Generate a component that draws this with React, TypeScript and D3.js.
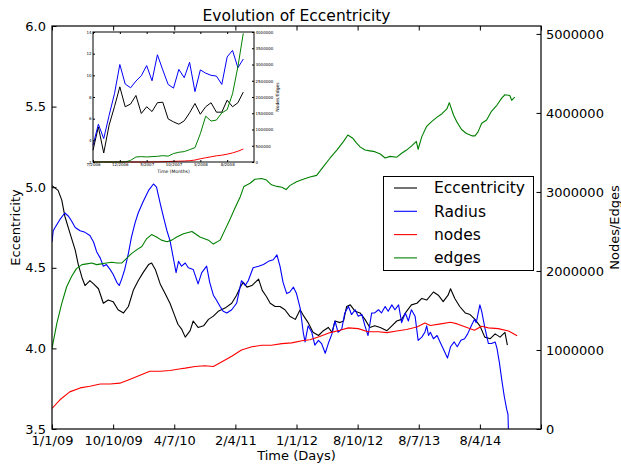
import React from 'react';
import * as d3 from 'd3';

const W = 621;
const H = 464;

// x positions are in tick units (0 = 1/1/09, 1 = 10/10/09, ...)
const dateLabels = ['1/1/09', '10/10/09', '4/7/10', '2/4/11', '1/1/12', '8/10/12', '8/7/13', '8/4/14'];

const eccentricity: [number, number][] = [
  [0, 5.01], [0.1, 4.98], [0.16, 4.92], [0.21, 4.82], [0.29, 4.72], [0.38, 4.61], [0.43, 4.52],
  [0.49, 4.44], [0.54, 4.39], [0.62, 4.42], [0.68, 4.4], [0.76, 4.37], [0.84, 4.28], [0.92, 4.3],
  [1.0, 4.29], [1.08, 4.24], [1.17, 4.22], [1.25, 4.26], [1.33, 4.36], [1.41, 4.42], [1.49, 4.47],
  [1.58, 4.52], [1.63, 4.53], [1.69, 4.49], [1.77, 4.4], [1.85, 4.34], [1.93, 4.28], [2.01, 4.2],
  [2.06, 4.15], [2.12, 4.12], [2.18, 4.07], [2.26, 4.11], [2.31, 4.17], [2.39, 4.13], [2.48, 4.14],
  [2.56, 4.18], [2.64, 4.2], [2.72, 4.23], [2.83, 4.25], [2.94, 4.28], [3.02, 4.33], [3.08, 4.38],
  [3.13, 4.41], [3.19, 4.38], [3.27, 4.39], [3.38, 4.43], [3.44, 4.36], [3.51, 4.32], [3.57, 4.28],
  [3.65, 4.26], [3.73, 4.26], [3.81, 4.24], [3.89, 4.2], [3.98, 4.18], [4.06, 4.24], [4.12, 4.2],
  [4.19, 4.16], [4.27, 4.1], [4.36, 4.08], [4.44, 4.11], [4.52, 4.13], [4.58, 4.1], [4.63, 4.17],
  [4.71, 4.16], [4.77, 4.17], [4.82, 4.26], [4.88, 4.27], [4.96, 4.23], [5.04, 4.22], [5.12, 4.18],
  [5.2, 4.13], [5.28, 4.14], [5.37, 4.13], [5.48, 4.11], [5.56, 4.14], [5.64, 4.17], [5.72, 4.18],
  [5.8, 4.23], [5.88, 4.27], [5.97, 4.28], [6.05, 4.31], [6.13, 4.3], [6.24, 4.35], [6.32, 4.33],
  [6.4, 4.29], [6.48, 4.33], [6.52, 4.37], [6.59, 4.31], [6.67, 4.26], [6.76, 4.22], [6.84, 4.21],
  [6.92, 4.18], [7.0, 4.14], [7.08, 4.07], [7.17, 4.06], [7.25, 4.09], [7.33, 4.07], [7.41, 4.1],
  [7.45, 4.02],
];

const radius: [number, number][] = [
  [0, 4.66], [0.02, 4.73], [0.05, 4.75], [0.13, 4.8], [0.21, 4.84], [0.27, 4.82], [0.32, 4.79],
  [0.38, 4.75], [0.46, 4.73], [0.54, 4.72], [0.62, 4.7], [0.68, 4.66], [0.73, 4.6], [0.79, 4.56],
  [0.84, 4.51], [0.89, 4.52], [0.95, 4.49], [1.0, 4.46], [1.06, 4.41], [1.1, 4.39], [1.14, 4.43],
  [1.19, 4.49], [1.25, 4.59], [1.3, 4.69], [1.36, 4.78], [1.41, 4.84], [1.49, 4.91], [1.58, 4.98],
  [1.66, 5.02], [1.71, 5.0], [1.77, 4.9], [1.82, 4.82], [1.88, 4.73], [1.93, 4.67], [1.98, 4.57],
  [2.03, 4.47], [2.07, 4.54], [2.12, 4.51], [2.18, 4.53], [2.23, 4.5], [2.31, 4.49], [2.39, 4.4],
  [2.45, 4.47], [2.53, 4.51], [2.58, 4.41], [2.64, 4.33], [2.69, 4.3], [2.75, 4.26], [2.8, 4.23],
  [2.86, 4.22], [2.94, 4.24], [3.02, 4.28], [3.1, 4.42], [3.16, 4.39], [3.21, 4.42], [3.29, 4.5],
  [3.38, 4.51], [3.46, 4.52], [3.54, 4.54], [3.62, 4.55], [3.68, 4.58], [3.73, 4.51], [3.78, 4.41],
  [3.84, 4.34], [3.89, 4.35], [3.95, 4.38], [4.0, 4.34], [4.06, 4.25], [4.11, 4.1], [4.14, 4.04],
  [4.19, 4.14], [4.25, 4.1], [4.3, 4.02], [4.36, 4.05], [4.41, 4.03], [4.47, 3.97], [4.52, 4.03],
  [4.58, 4.09], [4.63, 4.17], [4.68, 4.1], [4.74, 4.12], [4.79, 4.22], [4.85, 4.26], [4.9, 4.21],
  [4.96, 4.24], [5.01, 4.2], [5.07, 4.21], [5.12, 4.14], [5.17, 4.08], [5.23, 4.22], [5.28, 4.22],
  [5.34, 4.24], [5.39, 4.22], [5.45, 4.26], [5.5, 4.23], [5.56, 4.27], [5.61, 4.24], [5.67, 4.27],
  [5.72, 4.16], [5.78, 4.22], [5.83, 4.17], [5.88, 4.24], [5.94, 4.2], [5.99, 4.05], [6.05, 4.07],
  [6.1, 4.1], [6.13, 4.14], [6.16, 4.08], [6.19, 4.1], [6.24, 4.06], [6.3, 4.08], [6.36, 4.03],
  [6.41, 3.99], [6.47, 3.94], [6.52, 4.01], [6.58, 4.04], [6.63, 4.01], [6.69, 4.05], [6.75, 4.06],
  [6.8, 4.09], [6.86, 4.14], [6.91, 4.18], [6.94, 4.16], [7.0, 4.27], [7.03, 4.23], [7.08, 4.13],
  [7.14, 4.03], [7.19, 4.03], [7.25, 4.04], [7.28, 4.0], [7.32, 3.91], [7.36, 3.8], [7.4, 3.7],
  [7.44, 3.62], [7.46, 3.59], [7.47, 3.45],
];

// millions
const nodes: [number, number][] = [
  [0, 0.26], [0.13, 0.37], [0.29, 0.47], [0.46, 0.52], [0.62, 0.54], [0.79, 0.57], [0.95, 0.57],
  [1.11, 0.58], [1.28, 0.63], [1.44, 0.68], [1.6, 0.73], [1.77, 0.73], [1.93, 0.74], [2.08, 0.76],
  [2.18, 0.77], [2.34, 0.79], [2.5, 0.8], [2.64, 0.79], [2.78, 0.85], [2.94, 0.92], [3.1, 1.0],
  [3.27, 1.04], [3.43, 1.06], [3.59, 1.06], [3.76, 1.08], [3.92, 1.09], [4.11, 1.12], [4.22, 1.13],
  [4.38, 1.17], [4.55, 1.22], [4.71, 1.25], [4.85, 1.28], [5.01, 1.27], [5.17, 1.23], [5.34, 1.23],
  [5.48, 1.22], [5.64, 1.24], [5.8, 1.26], [5.97, 1.29], [6.1, 1.34], [6.19, 1.31], [6.36, 1.33],
  [6.52, 1.35], [6.63, 1.33], [6.8, 1.28], [6.91, 1.25], [7.03, 1.3], [7.14, 1.28], [7.3, 1.27],
  [7.47, 1.24], [7.61, 1.18],
];

// millions
const edges: [number, number][] = [
  [0, 1.02], [0.08, 1.34], [0.16, 1.59], [0.24, 1.8], [0.32, 1.93], [0.4, 2.03], [0.49, 2.08],
  [0.57, 2.09], [0.65, 2.1], [0.73, 2.08], [0.81, 2.09], [0.89, 2.1], [0.98, 2.11], [1.06, 2.1],
  [1.14, 2.1], [1.22, 2.16], [1.3, 2.22], [1.39, 2.27], [1.47, 2.31], [1.55, 2.41], [1.63, 2.46],
  [1.71, 2.43], [1.79, 2.39], [1.88, 2.37], [1.96, 2.39], [2.04, 2.43], [2.15, 2.47], [2.29, 2.5],
  [2.42, 2.43], [2.56, 2.39], [2.64, 2.34], [2.75, 2.39], [2.83, 2.52], [2.91, 2.65], [2.99, 2.79],
  [3.08, 2.94], [3.14, 3.07], [3.24, 3.11], [3.32, 3.16], [3.43, 3.17], [3.51, 3.15], [3.59, 3.09],
  [3.68, 3.07], [3.76, 3.06], [3.83, 3.03], [3.89, 3.08], [4.0, 3.13], [4.11, 3.16], [4.22, 3.19],
  [4.33, 3.21], [4.44, 3.32], [4.55, 3.43], [4.66, 3.53], [4.77, 3.64], [4.84, 3.72], [4.92, 3.68],
  [4.98, 3.62], [5.04, 3.57], [5.12, 3.53], [5.2, 3.52], [5.28, 3.51], [5.37, 3.48], [5.45, 3.43],
  [5.53, 3.45], [5.64, 3.44], [5.72, 3.49], [5.8, 3.53], [5.88, 3.58], [5.96, 3.64], [5.99, 3.54],
  [6.05, 3.7], [6.13, 3.83], [6.21, 3.89], [6.29, 3.94], [6.38, 3.99], [6.46, 4.05], [6.5, 4.13],
  [6.57, 3.97], [6.62, 3.89], [6.7, 3.79], [6.78, 3.74], [6.87, 3.71], [6.92, 3.71], [6.97, 3.76],
  [7.03, 3.87], [7.11, 3.91], [7.19, 4.02], [7.28, 4.1], [7.36, 4.19], [7.41, 4.23], [7.49, 4.22],
  [7.52, 4.16], [7.57, 4.2],
];

// inset: monthly values from 7/2006
const monthLabels = ['7/2006', '12/2006', '5/2007', '10/2007', '3/2008', '8/2008'];
const insetRadius = [3.54, 5.49, 4.16, 6.3, 8.3, 11.0, 9.2, 8.85, 9.47, 9.96, 10.9, 9.5, 11.9, 10.5,
  9.16, 8.82, 10.55, 9.78, 11.2, 8.5, 10.5, 10.2, 10.0, 9.93, 9.16, 11.7, 12.3, 10.7, 11.5];
const insetEcc = [3.08, 5.24, 2.83, 5.4, 7.1, 8.94, 7.1, 7.35, 8.14, 6.48, 7.1, 6.66, 7.47, 7.52,
  5.98, 5.7, 5.49, 5.8, 6.54, 7.4, 6.41, 7.1, 7.47, 6.6, 6.6, 7.71, 7.1, 7.47, 8.45];
const insetEdges = [0, 0, 0, 0, 0, 0, 0, 0.05, 0.154, 0.165, 0.155, 0.165, 0.175, 0.195, 0.18, 0.26,
  0.3, 0.32, 0.38, 0.44, 0.87, 1.41, 1.26, 1.29, 1.51, 1.61, 2.1, 2.93, 3.96];
const insetNodes = [0, 0, 0, 0, 0, 0, 0, 0, 0, 0, 0, 0, 0.005, 0.01, 0.015, 0.02, 0.025, 0.03, 0.04,
  0.06, 0.1, 0.13, 0.16, 0.19, 0.21, 0.24, 0.28, 0.33, 0.4];

const legendItems = [
  { name: 'Eccentricity', color: '#000000' },
  { name: 'Radius', color: '#0000ff' },
  { name: 'nodes', color: '#ff0000' },
  { name: 'edges', color: '#008000' },
];

const FONT = 'DejaVu Sans';

const fixAxis = (g: any, size: number) => {
  g.attr('font-family', FONT).attr('font-size', size);
  g.select('.domain').remove();
  g.selectAll('line').attr('stroke', '#000');
  g.selectAll('text').attr('fill', '#000');
};

export default function App() {
  const ref = React.useRef<SVGSVGElement>(null);

  React.useEffect(() => {
    const svg = d3.select(ref.current);
    svg.selectAll('*').remove();

    const L = 52, R = 541, T = 26, B = 429;
    const x = d3.scaleLinear().domain([0, 8]).range([L, R]);
    const yL = d3.scaleLinear().domain([3.5, 6]).range([B, T]);
    const yR = d3.scaleLinear().domain([0, 5.1]).range([B, T]);

    svg.append('rect').attr('width', W).attr('height', H).attr('fill', '#fff');

    svg.append('clipPath').attr('id', 'plotclip')
      .append('rect').attr('x', L).attr('y', T).attr('width', R - L).attr('height', B - T);

    const plot = svg.append('g').attr('clip-path', 'url(#plotclip)');
    const lineL = d3.line<[number, number]>().x(d => x(d[0])).y(d => yL(d[1]));
    const lineR = d3.line<[number, number]>().x(d => x(d[0])).y(d => yR(d[1]));
    const series = [
      { data: eccentricity, gen: lineL, color: '#000000' },
      { data: radius, gen: lineL, color: '#0000ff' },
      { data: nodes, gen: lineR, color: '#ff0000' },
      { data: edges, gen: lineR, color: '#008000' },
    ];
    series.forEach(s => {
      plot.append('path').attr('d', s.gen(s.data)).attr('fill', 'none')
        .attr('stroke', s.color).attr('stroke-width', 1.1).attr('stroke-linejoin', 'round');
    });

    // axes, ticks pointing inward
    const xb = svg.append('g').attr('transform', `translate(0,${B})`)
      .call(d3.axisBottom(x).tickValues(d3.range(0, 9)).tickSize(-4.5).tickPadding(7)
        .tickFormat((d: any) => dateLabels[d] ?? ''));
    fixAxis(xb, 13);
    const xt = svg.append('g').attr('transform', `translate(0,${T})`)
      .call(d3.axisTop(x).tickValues(d3.range(0, 9)).tickSize(-4.5).tickFormat(() => ''));
    fixAxis(xt, 13);
    const yl = svg.append('g').attr('transform', `translate(${L},0)`)
      .call(d3.axisLeft(yL).tickValues([3.5, 4, 4.5, 5, 5.5, 6]).tickSize(-4.5).tickPadding(6)
        .tickFormat(d3.format('.1f')));
    fixAxis(yl, 13);
    const yr = svg.append('g').attr('transform', `translate(${R},0)`)
      .call(d3.axisRight(yR).tickValues([0, 1, 2, 3, 4, 5]).tickSize(-4.5).tickPadding(5)
        .tickFormat((d: any) => String(d * 1000000)));
    fixAxis(yr, 13);

    svg.append('rect').attr('x', L).attr('y', T).attr('width', R - L).attr('height', B - T)
      .attr('fill', 'none').attr('stroke', '#000').attr('stroke-width', 1.2);

    // legend
    const lg = svg.append('g');
    lg.append('rect').attr('x', 383.5).attr('y', 176.5).attr('width', 150).attr('height', 94)
      .attr('fill', '#fff').attr('stroke', '#000').attr('stroke-width', 1);
    legendItems.forEach((it, i) => {
      const cy = 188 + i * 23.3;
      lg.append('line').attr('x1', 394).attr('x2', 417).attr('y1', cy).attr('y2', cy)
        .attr('stroke', it.color).attr('stroke-width', 1.1);
      lg.append('text').attr('x', 434).attr('y', cy).attr('dy', '0.35em')
        .attr('font-family', FONT).attr('font-size', 15.5).text(it.name);
    });

    // titles
    svg.append('text').attr('x', (L + R) / 2).attr('y', 21).attr('text-anchor', 'middle')
      .attr('font-family', FONT).attr('font-size', 15.5).text('Evolution of Eccentricity');
    svg.append('text').attr('x', (L + R) / 2).attr('y', 460).attr('text-anchor', 'middle')
      .attr('font-family', FONT).attr('font-size', 13).text('Time (Days)');
    svg.append('text').attr('transform', `translate(20,${(T + B) / 2}) rotate(-90)`)
      .attr('text-anchor', 'middle').attr('font-family', FONT).attr('font-size', 13).text('Eccentricity');
    svg.append('text').attr('transform', `translate(619,${(T + B) / 2}) rotate(-90)`)
      .attr('text-anchor', 'middle').attr('font-family', FONT).attr('font-size', 13).text('Nodes/Edges');

    // inset
    const iL = 93, iR = 254, iT = 32, iB = 162;
    const ix = d3.scaleLinear().domain([0, 30]).range([iL, iR]);
    const iyL = d3.scaleLinear().domain([2, 14]).range([iB, iT]);
    const iyR = d3.scaleLinear().domain([0, 4]).range([iB, iT]);
    const inset = svg.append('g');
    inset.append('rect').attr('x', iL).attr('y', iT).attr('width', iR - iL).attr('height', iB - iT)
      .attr('fill', '#fff');
    const il = d3.line<number>().x((_, i) => ix(i)).y(d => iyL(d));
    const ir = d3.line<number>().x((_, i) => ix(i)).y(d => iyR(d));
    [
      { d: il(insetEcc), c: '#000000' },
      { d: il(insetRadius), c: '#0000ff' },
      { d: ir(insetNodes), c: '#ff0000' },
      { d: ir(insetEdges), c: '#008000' },
    ].forEach(s => {
      inset.append('path').attr('d', s.d).attr('fill', 'none').attr('stroke', s.c)
        .attr('stroke-width', 1).attr('stroke-linejoin', 'round');
    });
    const ixb = inset.append('g').attr('transform', `translate(0,${iB})`)
      .call(d3.axisBottom(ix).tickValues([0, 5, 10, 15, 20, 25]).tickSize(-2).tickPadding(1.5)
        .tickFormat((_: any, i: number) => monthLabels[i]));
    fixAxis(ixb, 4);
    const ixt = inset.append('g').attr('transform', `translate(0,${iT})`)
      .call(d3.axisTop(ix).tickValues([0, 5, 10, 15, 20, 25]).tickSize(-2).tickFormat(() => ''));
    fixAxis(ixt, 4);
    const iyl = inset.append('g').attr('transform', `translate(${iL},0)`)
      .call(d3.axisLeft(iyL).tickValues(d3.range(2, 15, 2)).tickSize(-2).tickPadding(1.5));
    fixAxis(iyl, 4);
    const iyr = inset.append('g').attr('transform', `translate(${iR},0)`)
      .call(d3.axisRight(iyR).tickValues(d3.range(0, 4.01, 0.5)).tickSize(-2).tickPadding(1.5)
        .tickFormat((d: any) => String(Math.round(d * 1000000))));
    fixAxis(iyr, 4);
    inset.append('rect').attr('x', iL).attr('y', iT).attr('width', iR - iL).attr('height', iB - iT)
      .attr('fill', 'none').attr('stroke', '#000').attr('stroke-width', 1);
    inset.append('text').attr('x', (iL + iR) / 2).attr('y', 173).attr('text-anchor', 'middle')
      .attr('font-family', FONT).attr('font-size', 4.5).text('Time (Months)');
    inset.append('text').attr('transform', `translate(279,${(iT + iB) / 2}) rotate(-90)`)
      .attr('text-anchor', 'middle').attr('font-family', FONT).attr('font-size', 4.5).text('Nodes/Edges');
  }, []);

  return (
    <svg ref={ref} width={W} height={H}
      style={{ position: 'absolute', left: 0, top: 0, display: 'block' }} />
  );
}
